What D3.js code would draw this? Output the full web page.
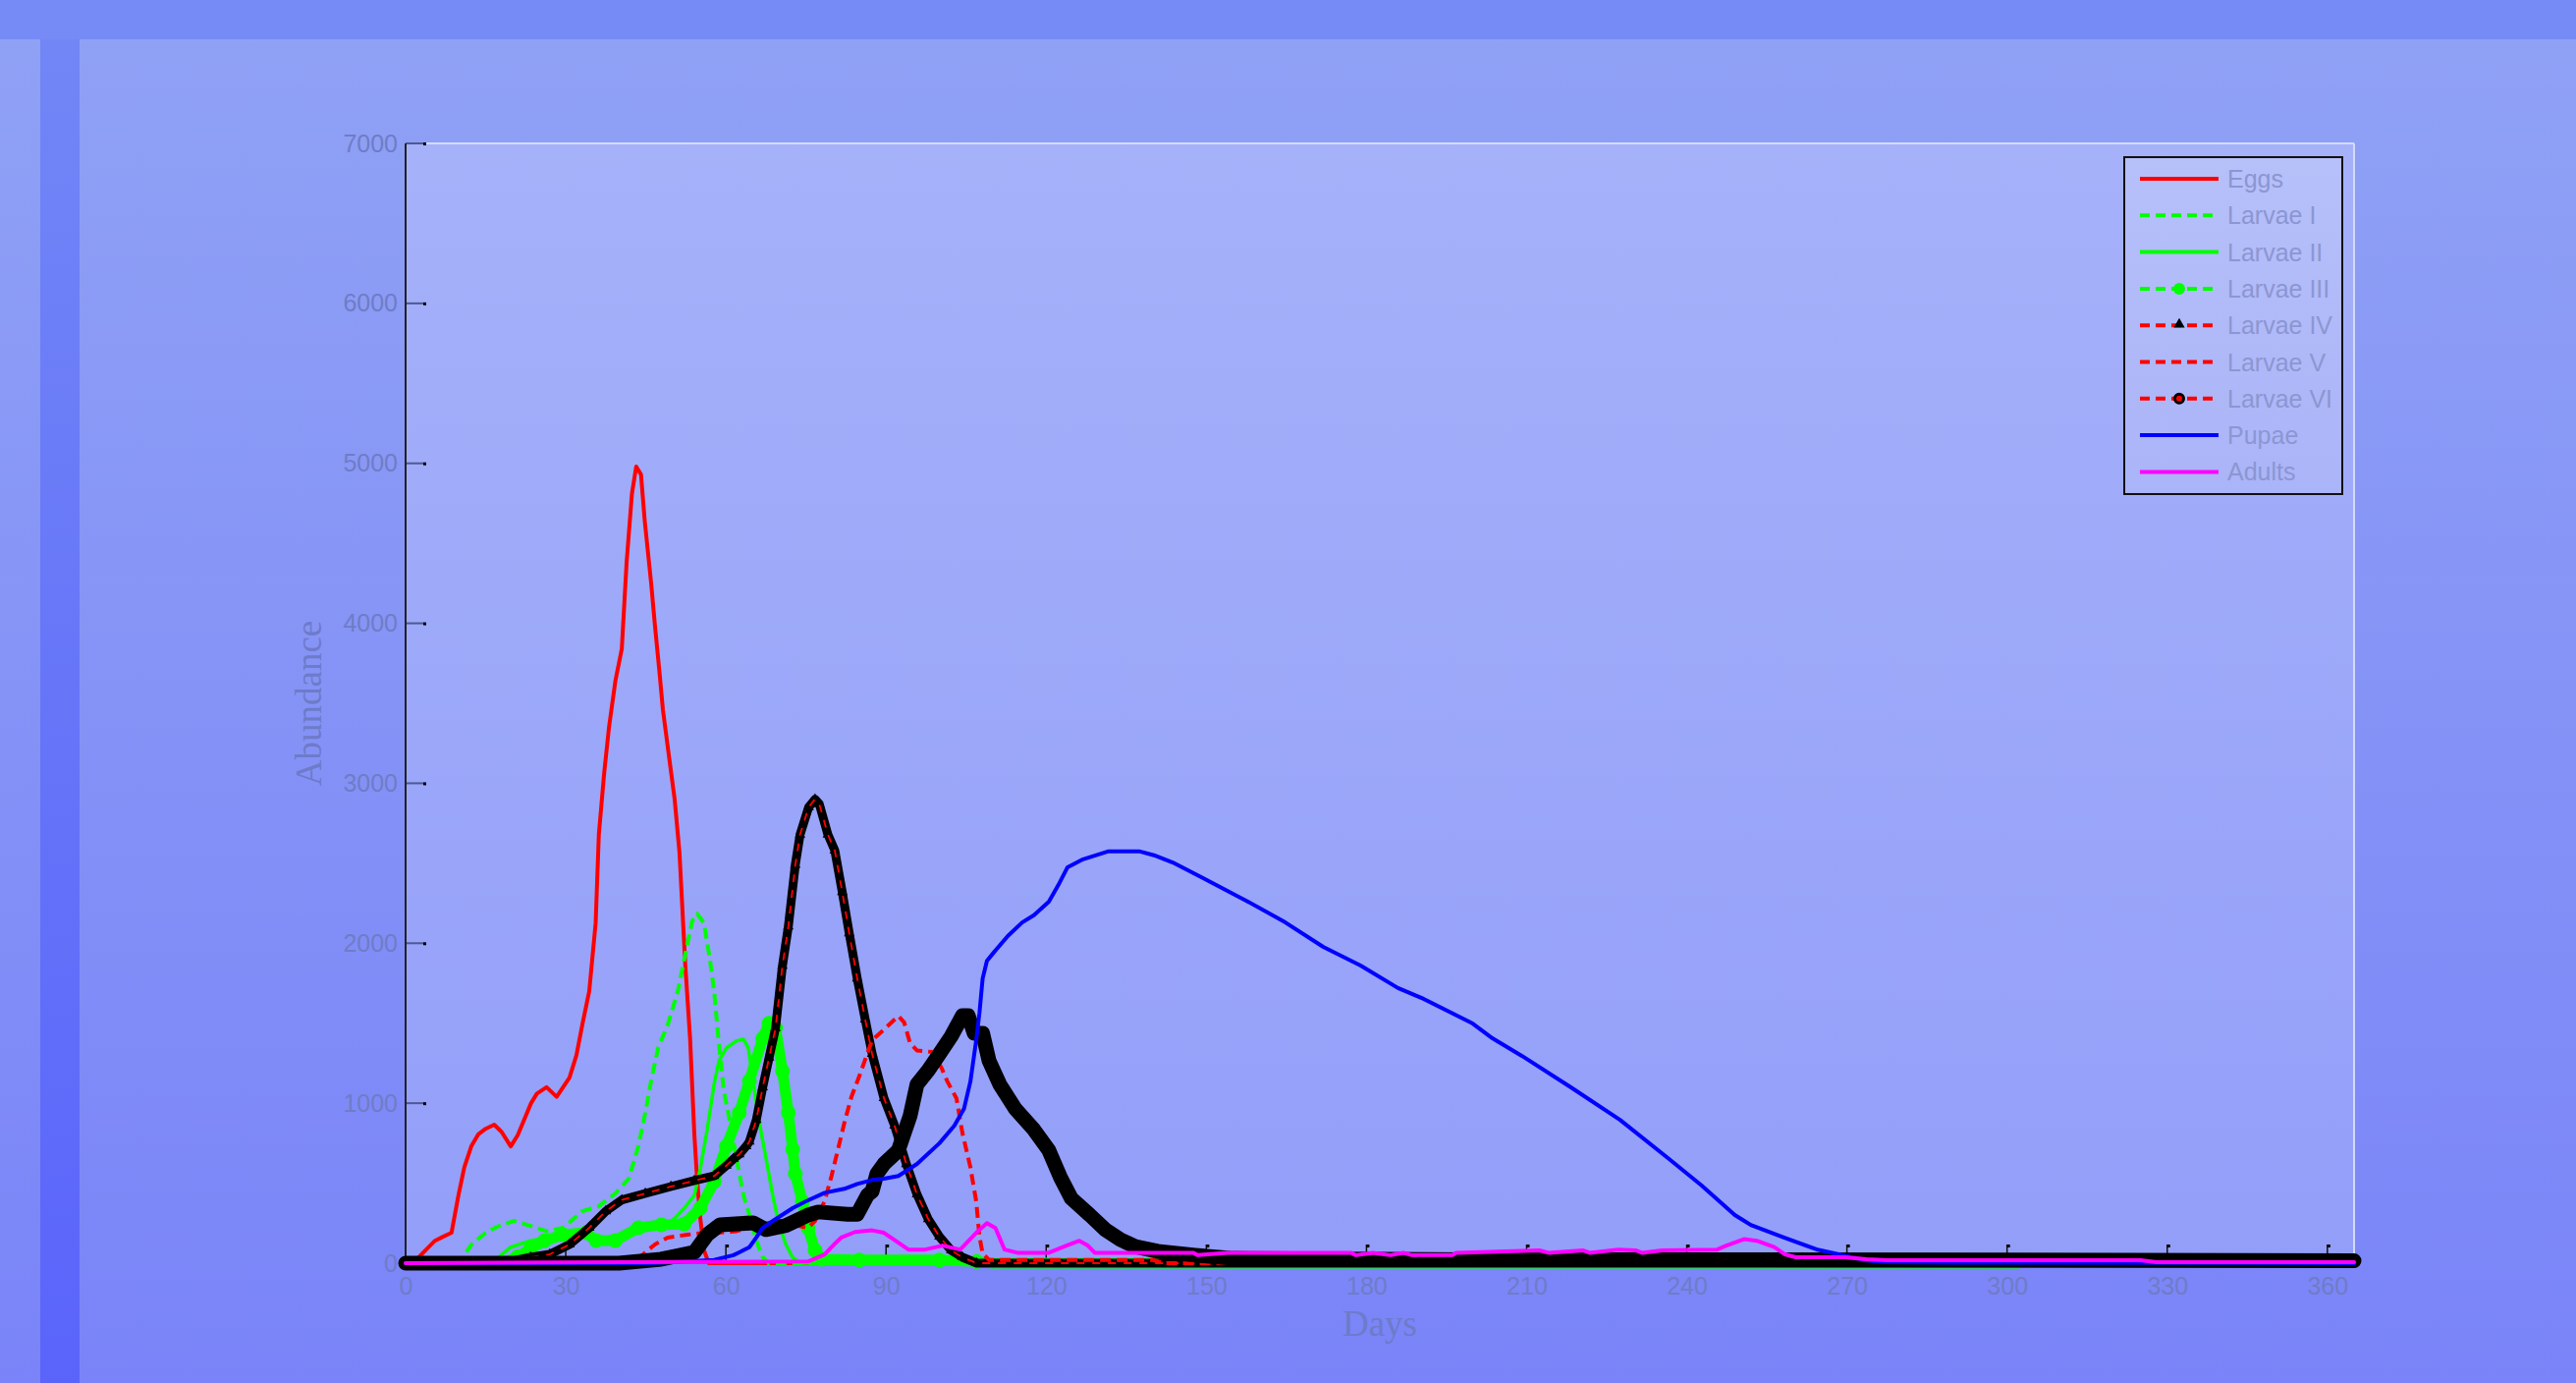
<!DOCTYPE html>
<html>
<head>
<meta charset="utf-8">
<script src="https://cdn.jsdelivr.net/npm/d3@7"></script>
<style>
  html, body { margin: 0; padding: 0; background: #768bf6; overflow: hidden; }
  svg { display: block; }
</style>
</head>
<body>
<script>
// Stage abundance over one year

const dayTicks = [0, 30, 60, 90, 120, 150, 180, 210, 240, 270, 300, 330, 360]
const abundanceTicks = [0, 1000, 2000, 3000, 4000, 5000, 6000, 7000]
const stageNames = ['Eggs', 'Larvae I', 'Larvae II', 'Larvae III', 'Larvae IV', 'Larvae V', 'Larvae VI', 'Pupae', 'Adults']

// [day, abundance]
const eggs = [[0, 0], [2, 20], [4, 90], [5.5, 140], [7, 165], [8.6, 190], [9.9, 425], [11, 600], [12.3, 730], [13.6, 805],
  [15, 840], [16.6, 866], [18, 820], [19.7, 730], [21, 800], [22, 880], [23.5, 1000], [24.6, 1060], [26.4, 1100],
  [28.3, 1040], [29.5, 1100], [30.7, 1160], [32, 1300], [33.1, 1490], [34.4, 1700], [35.6, 2125], [36.2, 2680],
  [37.2, 3064], [38.1, 3350], [39.3, 3640], [40.5, 3840], [41.4, 4380], [42.4, 4810], [43.2, 4980], [44.1, 4930],
  [44.8, 4640], [46, 4250], [46.7, 3990], [47.6, 3680], [48.2, 3460], [49.1, 3230], [50.4, 2900], [51.3, 2570],
  [52.4, 1860], [53.3, 1400], [54.1, 800], [54.6, 528], [55.2, 282], [55.9, 80], [56.8, 0], [365, 0]]

const larvaeI = [[0, 0], [10, 0], [12.3, 115], [15, 190], [17.3, 230], [20.3, 265], [23.4, 233], [26.4, 200], [29.5, 221],
  [33.1, 325], [36.2, 356], [39.3, 436], [41.8, 528], [43.6, 731], [44.9, 940], [46, 1142], [47.3, 1345], [49.1, 1490],
  [51, 1700], [52.2, 1900], [53.7, 2140], [54.6, 2185], [55.9, 2125], [57, 1900], [57.8, 1700], [58.6, 1405],
  [59.6, 1080], [60.7, 895], [62, 651], [63.3, 424], [64.4, 301], [65.7, 141], [66.9, 37], [68, 0], [365, 0]]

const larvaeII = [[0, 0], [16, 0], [19.7, 100], [23.4, 140], [28.3, 170], [33.1, 180], [37.5, 160], [39.3, 170], [43, 230],
  [46.7, 240], [49.1, 240], [50.4, 280], [52.2, 344], [54.1, 424], [55.2, 590], [56.5, 835], [57.8, 1120], [58.7, 1265],
  [60.1, 1345], [62, 1390], [63.3, 1400], [64.2, 1345], [65.1, 1140], [66.2, 890], [67.5, 660], [68.8, 420],
  [69.9, 250], [71.2, 120], [72.5, 35], [74, 0], [365, 0]]

const larvaeIII = [[0, 0], [18, 0], [21, 40], [23.4, 90], [26, 140], [29.5, 178], [33.8, 190], [35.7, 141], [39.3, 141],
  [43.6, 221], [47.9, 240], [52.2, 245], [55.2, 344], [57.8, 510], [60.1, 731], [62.5, 940], [64.4, 1140], [66.9, 1405],
  [68.1, 1500], [69.3, 1470], [70.6, 1200], [71.7, 940], [72.5, 712], [73, 560], [74.3, 387], [75.4, 221], [76.7, 80],
  [77.9, 25], [85, 20], [100, 20], [107, 10], [110, 0], [302, 0]]

const larvaeIV = [[0, 0], [18, 0], [23.4, 37], [27, 55], [30.7, 117], [34.4, 221], [37.5, 325], [40.5, 395], [44.9, 436],
  [49.7, 479], [54.1, 516], [57.8, 545], [60.1, 610], [61.4, 651], [62.5, 680], [63.8, 731], [64.4, 760], [65.7, 896],
  [66.9, 1100], [68.1, 1285], [69.3, 1470], [70.6, 1860], [71.7, 2105], [73, 2490], [73.9, 2680], [75.5, 2850],
  [76.7, 2900], [77.5, 2870], [79.1, 2680], [80.4, 2580], [81.8, 2320], [83.1, 2063], [84.6, 1780], [86.1, 1523],
  [87.4, 1308], [89.6, 1032], [91.6, 860], [93.8, 620], [95.8, 430], [97.9, 276], [100, 166], [102.2, 80],
  [104.3, 37], [107, 0], [365, 0]]

const larvaeV = [[0, 0], [43, 0], [44.1, 45], [46.7, 117], [49.1, 160], [52.8, 178], [55.9, 190], [58.3, 190], [62, 200],
  [65, 230], [68.1, 252], [69.9, 264], [72.5, 240], [75.4, 221], [76.7, 264], [78.5, 387], [79.8, 547], [81, 712],
  [82.2, 878], [83.5, 1038], [85, 1170], [87.4, 1395], [89.6, 1460], [92.3, 1545], [93.4, 1505], [94.5, 1375],
  [95.8, 1330], [98.6, 1320], [100.4, 1220], [101.5, 1135], [103.2, 1030], [104.3, 815], [105.8, 600], [106.9, 385],
  [107.5, 166], [108.1, 60], [109.3, 20], [140, 20], [142, 0], [365, 0]]

const larvaeVI = [[0, 0], [40, 0], [47.9, 25], [54.1, 68], [56.5, 178], [58.9, 240], [65.1, 252], [67.5, 210], [71.2, 235],
  [75.4, 301], [77.3, 320], [82.8, 305], [84.6, 305], [86.5, 424], [87.4, 450], [88.3, 560], [89.6, 620], [92.3, 705],
  [94.5, 920], [95.8, 1118], [97.9, 1205], [100, 1308], [102.2, 1418], [104.3, 1547], [105.4, 1547], [106.5, 1437],
  [108.1, 1437], [109.3, 1265], [111.3, 1118], [114.2, 965], [117.7, 835], [120.5, 705], [122.7, 534], [124.7, 405],
  [128.2, 300], [131.1, 209], [133.9, 147], [136.7, 104], [140.9, 74], [147.9, 50], [155, 30], [200, 22], [300, 20],
  [365, 15]]

const pupae = [[0, 0], [46, 0], [57.8, 20], [61.4, 50], [62.5, 68], [64.4, 100], [65.7, 160], [66.9, 220], [68.8, 264],
  [72.5, 344], [74.9, 385], [78.5, 440], [82.2, 465], [84.6, 495], [87.4, 520], [89.6, 528], [92.3, 545], [95.8, 620],
  [100, 750], [102.8, 860], [104.6, 965], [105.8, 1135], [106.9, 1395], [107.5, 1565], [108.1, 1780], [108.9, 1890],
  [110, 1935], [112.8, 2045], [115.5, 2130], [117.7, 2175], [120.5, 2260], [122.3, 2365], [124, 2475], [126.9, 2525],
  [131.7, 2575], [137.4, 2575], [140.2, 2550], [143.7, 2505], [149.4, 2407], [157.8, 2260], [164.8, 2130],
  [171.9, 1977], [178.9, 1860], [185.9, 1720], [190.7, 1652], [199.9, 1498], [203.6, 1406], [209.1, 1296],
  [218.3, 1099], [227.5, 896], [236.7, 651], [242.8, 485], [249, 301], [252, 239], [258.2, 160], [264.3, 86],
  [269.3, 49], [273.5, 18], [277, 6], [290, 3], [365, 0]]

const adults = [[0, 0], [75.4, 10], [78.5, 55], [80.2, 115], [81.6, 160], [84.2, 195], [87.4, 205], [89.6, 190], [90.9, 160],
  [94.2, 85], [97.3, 85], [100.6, 110], [103.9, 85], [107.2, 200], [108.9, 250], [110.5, 220], [112.2, 85], [114.6, 65],
  [120.5, 65], [123.8, 110], [126.2, 140], [127.8, 110], [129.1, 65], [147.5, 65], [148.4, 50], [154, 65], [177.1, 65],
  [178, 50], [181.2, 65], [184.5, 50], [186.9, 65], [188.5, 50], [196.1, 50], [196.8, 65], [212.4, 80], [214.1, 65],
  [220.5, 80], [221.8, 65], [227.2, 85], [230.4, 80], [231.6, 65], [235.4, 80], [245.7, 85], [247.4, 110], [250.7, 150],
  [253.1, 140], [256.4, 100], [258.4, 55], [260.4, 37], [269.6, 37], [273.7, 25], [277.7, 18], [325, 18], [328, 6],
  [365, 6]]

const W = 2623
const H = 1408
const plot = { left: 413, right: 2397, top: 146, bottom: 1286 }
const sansFont = "'Liberation Sans', Arial, Helvetica, sans-serif"
const serifFont = "'Liberation Serif', 'Times New Roman', serif"

const svg = d3.select('body').append('svg')
  .attr('width', W)
  .attr('height', H)

const defs = svg.append('defs')

function addGradient(id, top, bottom) {
  const g = defs.append('linearGradient')
    .attr('id', id)
    .attr('x1', 0).attr('y1', 0).attr('x2', 0).attr('y2', 1)
  g.append('stop').attr('offset', 0).attr('stop-color', top)
  g.append('stop').attr('offset', 1).attr('stop-color', bottom)
}

addGradient('panelFill', '#8fa1f5', '#7a84f8')
addGradient('stripFill', '#7286f6', '#5a64fb')
addGradient('plotFill', '#a5b1f9', '#939ef9')
addGradient('legendFill', '#b6c0f9', '#aab4f8')

// Backdrop: top band, panel, darker strip on the left
svg.append('rect').attr('width', W).attr('height', 40).attr('fill', '#768bf6')
svg.append('rect').attr('y', 40).attr('width', W).attr('height', H - 40).attr('fill', 'url(#panelFill)')
svg.append('rect').attr('x', 41).attr('y', 40).attr('width', 40).attr('height', H - 40).attr('fill', 'url(#stripFill)')

// Scales
const x = d3.scaleLinear().domain([0, 365]).range([plot.left, plot.right])
const y = d3.scaleLinear().domain([0, 7000]).range([plot.bottom, plot.top])

// Plot area
svg.append('rect')
  .attr('x', plot.left)
  .attr('y', plot.top)
  .attr('width', plot.right - plot.left)
  .attr('height', plot.bottom - plot.top)
  .attr('fill', 'url(#plotFill)')

// Light frame on top and right
svg.append('line')
  .attr('x1', plot.left + 20).attr('x2', plot.right)
  .attr('y1', plot.top).attr('y2', plot.top)
  .attr('stroke', '#d3dafd').attr('stroke-width', 2)
svg.append('line')
  .attr('x1', plot.right).attr('x2', plot.right)
  .attr('y1', plot.top).attr('y2', plot.bottom)
  .attr('stroke', '#d3dafd').attr('stroke-width', 2)

// Y axis labels
const yAxis = svg.append('g')
  .attr('transform', `translate(${plot.left},0)`)
  .call(d3.axisLeft(y).tickValues(abundanceTicks).tickSize(0).tickPadding(8).tickFormat(d3.format('d')))
yAxis.select('.domain').remove()
yAxis.selectAll('text')
  .attr('font-family', sansFont)
  .attr('font-size', '25px')
  .attr('fill', '#6f7cc6')

// X axis labels
const xAxis = svg.append('g')
  .attr('transform', `translate(0,${plot.bottom})`)
  .call(d3.axisBottom(x).tickValues(dayTicks).tickSize(0).tickPadding(14))
xAxis.select('.domain').remove()
xAxis.selectAll('text')
  .attr('font-family', sansFont)
  .attr('font-size', '25px')
  .attr('fill', '#6f7cc6')

// Inward tick marks with the little dark end caps
const yTickG = svg.append('g')
abundanceTicks.forEach(v => {
  yTickG.append('line')
    .attr('x1', plot.left).attr('x2', plot.left + 18)
    .attr('y1', y(v)).attr('y2', y(v))
    .attr('stroke', '#4e5892').attr('stroke-width', 2)
  yTickG.append('rect')
    .attr('x', plot.left + 18).attr('y', y(v) - 1)
    .attr('width', 3).attr('height', 3)
    .attr('fill', '#000')
})

const xTickG = svg.append('g')
dayTicks.filter(d => d > 0).forEach(d => {
  xTickG.append('line')
    .attr('x1', x(d)).attr('x2', x(d))
    .attr('y1', plot.bottom).attr('y2', plot.bottom - 19)
    .attr('stroke', '#111').attr('stroke-width', 1.5)
  xTickG.append('rect')
    .attr('x', x(d)).attr('y', plot.bottom - 19)
    .attr('width', 3).attr('height', 3)
    .attr('fill', '#000')
})

// Axis lines
svg.append('line')
  .attr('x1', plot.left).attr('x2', plot.left)
  .attr('y1', plot.top).attr('y2', plot.bottom)
  .attr('stroke', '#222').attr('stroke-width', 2)
svg.append('line')
  .attr('x1', plot.left).attr('x2', plot.right)
  .attr('y1', plot.bottom).attr('y2', plot.bottom)
  .attr('stroke', '#5a6390').attr('stroke-width', 1.5)

// Axis titles
svg.append('text')
  .attr('x', (plot.left + plot.right) / 2)
  .attr('y', 1360)
  .attr('text-anchor', 'middle')
  .attr('font-family', serifFont)
  .attr('font-size', '37px')
  .attr('fill', '#6d7bc9')
  .text('Days')

svg.append('text')
  .attr('transform', `translate(327,${(plot.top + plot.bottom) / 2}) rotate(-90)`)
  .attr('text-anchor', 'middle')
  .attr('font-family', serifFont)
  .attr('font-size', '37px')
  .attr('fill', '#6d7bc9')
  .text('Abundance')

// Series
const line = d3.line()
  .x(d => x(d[0]))
  .y(d => y(d[1]))

const curves = svg.append('g')

function drawPath(data, color, width, dash) {
  curves.append('path')
    .datum(data)
    .attr('d', line)
    .attr('fill', 'none')
    .attr('stroke', color)
    .attr('stroke-width', width)
    .attr('stroke-linejoin', 'round')
    .attr('stroke-linecap', dash ? 'butt' : 'round')
    .attr('stroke-dasharray', dash)
}

const dashed = '11,6'

// Eggs, Larvae I, Larvae II
drawPath(eggs, '#ff0000', 4, null)
drawPath(larvaeI, '#00ff00', 4, dashed)
drawPath(larvaeII, '#00ff00', 3.5, null)

// Larvae III: dense circle markers form a thick green trail
drawPath(larvaeIII, '#00ff00', 11, null)
drawPath(larvaeIII, '#00ff00', 3.5, dashed)
curves.append('g').selectAll('circle')
  .data(larvaeIII.filter(d => d[1] > 0))
  .enter()
  .append('circle')
  .attr('cx', d => x(d[0]))
  .attr('cy', d => y(d[1]))
  .attr('r', 6)
  .attr('fill', 'none')
  .attr('stroke', '#00ff00')
  .attr('stroke-width', 3)

// Larvae IV: red dashed under black triangle markers
drawPath(larvaeIV, '#000', 9, null)
curves.append('g').selectAll('path')
  .data(larvaeIV)
  .enter()
  .append('path')
  .attr('transform', d => `translate(${x(d[0])},${y(d[1])})`)
  .attr('d', d3.symbol(d3.symbolTriangle).size(50))
  .attr('fill', '#000')
drawPath(larvaeIV, '#ff0000', 1.8, '8,8')

// Larvae V
drawPath(larvaeV, '#ff0000', 4, dashed)

// Larvae VI: black circle markers with red centres, drawn as a heavy trail
drawPath(larvaeVI, '#000', 15, null)

// Pupae, Adults
drawPath(pupae, '#0000ff', 4, null)
drawPath(adults, '#ff00ff', 4, null)

// Legend
const legend = svg.append('g').attr('transform', 'translate(2163,160)')
legend.append('rect')
  .attr('width', 222)
  .attr('height', 343)
  .attr('fill', 'url(#legendFill)')
  .attr('stroke', '#111')
  .attr('stroke-width', 2)

const legendStyles = [
  { color: '#ff0000', dash: null, marker: null },
  { color: '#00ff00', dash: '10,6', marker: null },
  { color: '#00ff00', dash: null, marker: null },
  { color: '#00ff00', dash: '10,6', marker: 'dot' },
  { color: '#ff0000', dash: '10,6', marker: 'triangle' },
  { color: '#ff0000', dash: '10,6', marker: null },
  { color: '#ff0000', dash: '10,6', marker: 'ring' },
  { color: '#0000ff', dash: null, marker: null },
  { color: '#ff00ff', dash: null, marker: null }
]

stageNames.forEach((name, i) => {
  const style = legendStyles[i]
  const g = legend.append('g').attr('transform', `translate(0,${22 + i * 37.3})`)

  g.append('line')
    .attr('x1', 16).attr('x2', 96)
    .attr('stroke', style.color)
    .attr('stroke-width', 4)
    .attr('stroke-dasharray', style.dash)

  if (style.marker === 'dot') {
    g.append('circle').attr('cx', 56).attr('r', 6).attr('fill', '#00ff00')
  } else if (style.marker === 'triangle') {
    g.append('path')
      .attr('transform', 'translate(56,-1)')
      .attr('d', d3.symbol(d3.symbolTriangle).size(55))
      .attr('fill', '#000')
  } else if (style.marker === 'ring') {
    g.append('circle').attr('cx', 56).attr('r', 4.5)
      .attr('fill', '#ff0000').attr('stroke', '#000').attr('stroke-width', 3)
  }

  g.append('text')
    .attr('x', 105)
    .attr('y', 9)
    .attr('font-family', sansFont)
    .attr('font-size', '25px')
    .attr('fill', '#8c96d2')
    .text(name)
})
</script>
</body>
</html>
